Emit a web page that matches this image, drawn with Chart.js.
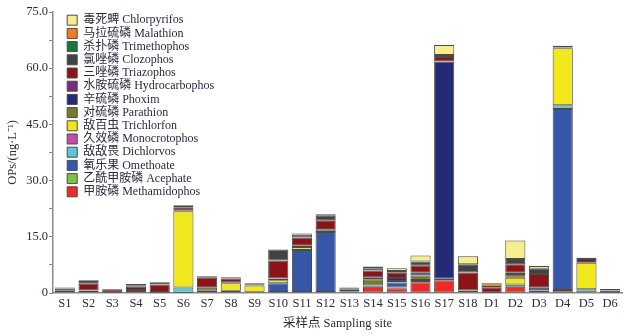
<!DOCTYPE html>
<html>
<head>
<meta charset="utf-8">
<script src="https://cdn.jsdelivr.net/npm/chart.js@4/dist/chart.umd.min.js"></script>
<style>
  html, body { margin: 0; padding: 0; background: #fff; }
  #wrap { width: 628px; height: 336px; }
</style>
</head>
<body>
<div id="wrap"><canvas id="chart" width="628" height="336"></canvas></div>
<script>
const sites = ['S1','S2','S3','S4','S5','S6','S7','S8','S9','S10','S11','S12','S13','S14','S15','S16','S17','S18','D1','D2','D3','D4','D5','D6'];
const y_ticks = [0, 15, 30, 45, 60, 75];

// bottom of the stack first
const methamidophos  = [0.3,0.3,0.1,0.2,0.1,0.1,0.3,0.6,0.2,0.3,0.3,0.3,0.2,1.7,1.3,2.9,3.4,0.2,0.1,1.7,0.2,0.8,0.2,0.1];
const acephate       = [0,0,0,0,0,0,0,0,0,0,0,0,0,0.3,0.2,0.3,0.4,0,0,0.6,0,0,0,0];
const omethoate      = [0,0,0,0,0,0,0,0,0,2.3,11.2,16.0,0,0,1.3,0,0,0,0,0,0,48.3,0,0];
const dichlorvos     = [0,0,0,0,0,1.4,0,0,0,0,0,0,0,0,0,0,0,0,0,0,0,1.0,0.8,0];
const monocrotophos  = [0,0,0,0,0,0,0,0,0,0,0,0,0,0,0,0,0,0,0,0,0,0,0,0];
const trichlorfon    = [0,0,0,0.1,0,20.3,0.3,2.0,1.8,0.8,0.8,0.6,0.3,0,0,0.3,0,0,0,1.8,0,15.2,7.1,0];
const parathion      = [0.3,0.4,0,0.5,0.2,0.3,0.8,0.3,0.2,0.5,0.3,0.2,0.5,1.7,0.4,1.2,0,0.5,0,1.0,0.5,0,0.2,0];
const phoxim         = [0,0,0,0,0,0,0,0,0,0,0,0,0,0.5,0.8,0.7,58.0,0,0,0.3,0.7,0,0,0];
const hydrocarbophos = [0,0,0,0,0,0,0,0,0,0,0,0,0,0,0,0,0,0,0,0,0,0,0,0];
const triazophos     = [0.6,1.8,0.8,0.9,2.0,0.8,2.7,1.0,0,4.8,2.2,2.3,0,1.8,1.4,1.9,1.2,4.8,1.3,2.3,3.7,0.2,0.8,0.6];
const clozophos      = [0.3,0.7,0.2,0.4,0.6,0.5,0.4,0.3,0.4,2.9,0.8,1.2,0.3,0.6,0.5,1.1,0.5,2.2,0.2,1.4,1.4,0.5,0.3,0.4];
const trimethophos   = [0,0,0,0,0,0,0,0,0,0,0,0,0,0,0,0,0,0,0,0,0,0,0,0];
const malathion      = [0,0,0,0,0,0,0,0,0,0,0,0,0,0,0,0,0,0,1.0,0,0,0,0,0];
const chlorpyrifos   = [0,0.2,0,0.3,0,0,0,0,0,0,0.3,0.4,0.2,0.5,0.7,1.6,2.7,2.1,0,4.9,0.7,0,0,0];

const series = [
	['甲胺磷 Methamidophos', methamidophos, '#ec2a26'],
	['乙酰甲胺磷 Acephate', acephate, '#7cc243'],
	['氧乐果 Omethoate', omethoate, '#3656a8'],
	['敌敌畏 Dichlorvos', dichlorvos, '#5ec6d6'],
	['久效磷 Monocrotophos', monocrotophos, '#c24ba6'],
	['敌百虫 Trichlorfon', trichlorfon, '#f1e71d'],
	['对硫磷 Parathion', parathion, '#787a2c'],
	['辛硫磷 Phoxim', phoxim, '#262a76'],
	['水胺硫磷 Hydrocarbophos', hydrocarbophos, '#7a2a86'],
	['三唑磷 Triazophos', triazophos, '#8a1416'],
	['氯唑磷 Clozophos', clozophos, '#424242'],
	['杀扑磷 Trimethophos', trimethophos, '#137a3b'],
	['马拉硫磷 Malathion', malathion, '#f07d22'],
	['毒死蜱 Chlorpyrifos', chlorpyrifos, '#f6ee8c'],
];

const font_family = '"Liberation Serif", "Noto Sans CJK SC", serif';
const text_color = '#2b2b40';

// the legend sits inside the plot, a bit right of and below the axis corner
const legend_shift = {
	id: 'legend_shift',
	afterLayout(chart) {
		const lg = chart.legend;
		lg.left += 13;
		lg.top += 13;
		lg.bottom += 13;
	}
};

new Chart(document.getElementById('chart'), {
	type: 'bar',
	data: {
		labels: sites,
		datasets: series.map(s => ({
			label: s[0],
			data: s[1],
			backgroundColor: s[2],
			borderColor: '#4a4a4a',
			borderWidth: 1,
			borderSkipped: false,
			barPercentage: 0.85,
			categoryPercentage: 1.0,
		}))
	},
	options: {
		responsive: false,
		animation: false,
		layout: { padding: { left: 0, right: 6, top: 12, bottom: 0 } },
		plugins: {
			legend: {
				position: 'chartArea',
				align: 'start',
				reverse: true,
				labels: {
					boxWidth: 10,
					boxHeight: 10,
					padding: 1.2,
					color: text_color,
					font: { family: font_family, size: 12 },
				}
			},
			tooltip: { enabled: false },
		},
		scales: {
			x: {
				stacked: true,
				grid: { display: false, drawTicks: false },
				border: { color: '#8a8a8a', width: 1.5 },
				ticks: { color: text_color, font: { family: font_family, size: 12.5 }, padding: 3, maxRotation: 0, autoSkip: false },
				title: { display: true, text: '采样点 Sampling site', color: text_color, font: { family: font_family, size: 12.5 }, padding: { top: 0, bottom: 5 } },
				afterFit: (scale) => { scale.height = 43; },
			},
			y: {
				stacked: true,
				min: 0,
				max: 75,
				border: { color: '#8a8a8a', width: 1.5 },
				grid: { drawOnChartArea: false, drawTicks: true, tickLength: 4, color: '#8a8a8a' },
				ticks: {
					stepSize: 7.5,
					padding: 1,
					color: text_color,
					font: { family: font_family, size: 12.5 },
					callback: (v) => {
						if (!y_ticks.includes(v)) return '';
						return v === 0 ? '0' : v.toFixed(1);
					}
				},
				title: { display: true, text: 'OPs/(ng·L⁻¹)', color: text_color, font: { family: font_family, size: 12.5 }, padding: { top: 5, bottom: 0 } },
				afterFit: (scale) => { scale.width = 53; },
			}
		}
	},
	plugins: [legend_shift]
});
</script>
</body>
</html>
